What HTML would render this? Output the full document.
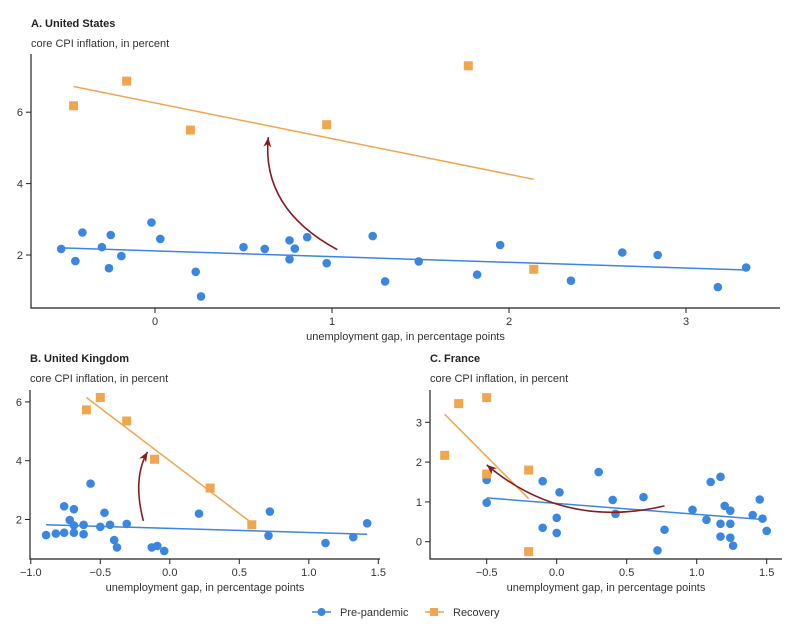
<!DOCTYPE html>
<html><head><meta charset="utf-8"><style>
html,body{margin:0;padding:0;background:#fff;}
svg{display:block;font-family:"Liberation Sans",sans-serif;}
</style></head><body>
<svg id="chart" width="800" height="635" viewBox="0 0 800 635" xmlns="http://www.w3.org/2000/svg">
<g>
  <line x1="312" y1="612" x2="331" y2="612" stroke="#3a86e0" stroke-width="1.5"/>
  <circle cx="321.5" cy="612" r="4" fill="#3a86e0"/>
  <text x="340" y="616" font-size="11" fill="#333">Pre-pandemic</text>
  <line x1="425" y1="612" x2="444" y2="612" stroke="#f0a550" stroke-width="1.5"/>
  <rect x="430" y="608" width="8" height="8" fill="#f0a550"/>
  <text x="453" y="616" font-size="11" fill="#333">Recovery</text>
</g>
</svg>
<script>
// Panel A: United States
const usPreX=[-0.53,-0.45,-0.41,-0.30,-0.26,-0.25,-0.19,-0.02,0.03,0.23,0.26,0.50,0.62,0.76,0.76,0.79,0.86,0.97,1.23,1.30,1.49,1.82,1.95,2.35,2.64,2.84,3.18,3.34];
const usPreY=[2.17,1.83,2.63,2.22,1.63,2.56,1.97,2.91,2.45,1.53,0.84,2.22,2.17,2.41,1.88,2.18,2.50,1.77,2.53,1.26,1.82,1.45,2.28,1.28,2.07,2.00,1.10,1.65];
const usRecX=[-0.46,-0.16,0.20,0.97,1.77,2.14];
const usRecY=[6.18,6.87,5.50,5.65,7.30,1.60];
const usPreFit=[[-0.53,2.20],[3.34,1.58]];
const usRecFit=[[-0.46,6.72],[2.14,4.12]];
const usXTicks=[0,1,2,3];
const usYTicks=[2,4,6];
const usXLabels=["0","1","2","3"];
// Panel B: United Kingdom
const ukPreX=[-0.89,-0.82,-0.76,-0.76,-0.72,-0.69,-0.69,-0.69,-0.62,-0.62,-0.57,-0.50,-0.47,-0.43,-0.40,-0.38,-0.31,-0.13,-0.09,-0.04,0.21,0.71,0.72,1.12,1.32,1.42];
const ukPreY=[1.47,1.52,2.45,1.55,1.98,2.35,1.80,1.55,1.82,1.50,3.22,1.75,2.23,1.82,1.30,1.05,1.85,1.05,1.10,0.93,2.20,1.45,2.27,1.20,1.40,1.87];
const ukRecX=[-0.60,-0.50,-0.31,-0.11,0.29,0.59];
const ukRecY=[5.73,6.15,5.35,4.05,3.07,1.82];
const ukPreFit=[[-0.89,1.82],[1.42,1.50]];
const ukRecFit=[[-0.60,6.15],[0.59,1.88]];
const ukXTicks=[-1,-0.5,0,0.5,1,1.5];
const ukXLabels=["\u22121.0","\u22120.5","0.0","0.5","1.0","1.5"];
const ukYTicks=[2,4,6];
// Panel C: France
const frPreX=[-0.50,-0.50,-0.10,-0.10,0.00,0.00,0.02,0.30,0.40,0.42,0.62,0.72,0.77,0.97,1.07,1.10,1.17,1.17,1.17,1.20,1.24,1.24,1.24,1.26,1.40,1.45,1.47,1.50];
const frPreY=[1.55,0.98,1.52,0.35,0.60,0.22,1.24,1.75,1.05,0.70,1.12,-0.22,0.30,0.80,0.55,1.50,1.63,0.45,0.13,0.90,0.78,0.45,0.10,-0.10,0.67,1.06,0.58,0.27];
const frRecX=[-0.80,-0.70,-0.50,-0.50,-0.20,-0.20];
const frRecY=[2.17,3.47,3.62,1.70,1.80,-0.25];
const frPreFit=[[-0.50,1.10],[1.50,0.55]];
const frRecFit=[[-0.80,3.20],[-0.20,1.08]];
const frXTicks=[-0.5,0,0.5,1,1.5];
const frXLabels=["\u22120.5","0.0","0.5","1.0","1.5"];
const frYTicks=[0,1,2,3];

const svg=document.getElementById('chart');
const NS="http://www.w3.org/2000/svg";
function mk(tag,attrs,parent){const e=document.createElementNS(NS,tag);for(const k in attrs)e.setAttribute(k,attrs[k]);parent.appendChild(e);return e;}

function panel(cfg){
  const g=mk('g',{},svg);
  
  
  const sx=v=>cfg.x0px+(v-cfg.x0)*cfg.xs;
  const sy=v=>cfg.y0px-(v-cfg.y0)*cfg.ys;
  const t=mk('text',{x:cfg.left,y:cfg.titleY,'font-size':11,'font-weight':'bold',fill:'#222'},g);t.textContent=cfg.title;
  
  
  const st=mk('text',{x:cfg.left,y:cfg.titleY+20,'font-size':11,fill:'#333'},g);st.textContent="core CPI inflation, in percent";
  
  
  const ax=mk('path',{d:`M${cfg.left} ${cfg.top}V${cfg.bottom}H${cfg.right}`,stroke:'#222','stroke-width':1.2,fill:'none'},g);
  
  
  cfg.xt.forEach((v,i)=>{
    mk('line',{x1:sx(v),x2:sx(v),y1:cfg.bottom,y2:cfg.bottom+5,stroke:'#222'},g);
    const l=mk('text',{x:sx(v),y:cfg.bottom+17,'font-size':11,fill:'#333','text-anchor':'middle'},g);l.textContent=cfg.xl[i];
    
    
  });
  cfg.yt.forEach(v=>{
    mk('line',{x1:cfg.left-5,x2:cfg.left,y1:sy(v),y2:sy(v),stroke:'#222'},g);
    const l=mk('text',{x:cfg.left-8,y:sy(v)+4,'font-size':11,fill:'#333','text-anchor':'end'},g);l.textContent=String(v);
    
    
  });
  const xt=mk('text',{x:(cfg.left+cfg.right)/2,y:cfg.bottom+32,'font-size':11,fill:'#333','text-anchor':'middle'},g);
  xt.textContent="unemployment gap, in percentage points";
  
  
  cfg.px.forEach((v,i)=>{
    const c=mk('circle',{cx:sx(v),cy:sy(cfg.py[i]),r:4.3,fill:'#3a86e0'},g);
    
    
  });
  cfg.rx.forEach((v,i)=>{
    const r=mk('rect',{x:sx(v)-4.5,y:sy(cfg.ry[i])-4.5,width:9,height:9,fill:'#f0a550'},g);
    
    
  });
  const pf=mk('line',{x1:sx(cfg.pf[0][0]),y1:sy(cfg.pf[0][1]),x2:sx(cfg.pf[1][0]),y2:sy(cfg.pf[1][1]),stroke:'#3a86e0','stroke-width':1.5},g);
  
  
  const rf=mk('line',{x1:sx(cfg.rf[0][0]),y1:sy(cfg.rf[0][1]),x2:sx(cfg.rf[1][0]),y2:sy(cfg.rf[1][1]),stroke:'#f0a550','stroke-width':1.5},g);
  
  
  const a=cfg.arrow;
  const p0=[sx(a[0][0]),sy(a[0][1])],pc=[sx(a[1][0]),sy(a[1][1])],p1=[sx(a[2][0]),sy(a[2][1])];
  const ar=mk('path',{d:`M${p0[0]} ${p0[1]}Q${pc[0]} ${pc[1]} ${p1[0]} ${p1[1]}`,stroke:'#8b1a1a','stroke-width':1.6,fill:'none'},g);
  
  
  const dx=p1[0]-pc[0],dy=p1[1]-pc[1],L=Math.hypot(dx,dy),ux=dx/L,uy=dy/L;
  const hx=p1[0]-ux*10,hy=p1[1]-uy*10;
  const ah=mk('path',{d:`M${p1[0]} ${p1[1]}L${hx-uy*4} ${hy+ux*4}L${hx+ux*3} ${hy+uy*3}L${hx+uy*4} ${hy-ux*4}Z`,fill:'#8b1a1a'},g);
  
  
}
panel({name:'panel-united-states',title:'A. United States',titleY:27,left:31,right:780,top:54,bottom:308,
  x0:0,x0px:155,xs:177,y0:2,y0px:255,ys:35.7,xt:usXTicks,xl:usXLabels,yt:usYTicks,
  px:usPreX,py:usPreY,rx:usRecX,ry:usRecY,pf:usPreFit,rf:usRecFit,arrow:[[1.03,2.15],[0.6,3.3],[0.64,5.3]]});
panel({name:'panel-united-kingdom',title:'B. United Kingdom',titleY:362,left:30,right:380,top:390,bottom:559,
  x0:0,x0px:169.8,xs:139,y0:2,y0px:519.5,ys:29.4,xt:ukXTicks,xl:ukXLabels,yt:ukYTicks,
  px:ukPreX,py:ukPreY,rx:ukRecX,ry:ukRecY,pf:ukPreFit,rf:ukRecFit,arrow:[[-0.19,1.95],[-0.27,3.4],[-0.16,4.3]]});
panel({name:'panel-france',title:'C. France',titleY:362,left:430,right:782,top:390,bottom:559,
  x0:0,x0px:556.7,xs:140,y0:0,y0px:541.7,ys:39.8,xt:frXTicks,xl:frXLabels,yt:frYTicks,
  px:frPreX,py:frPreY,rx:frRecX,ry:frRecY,pf:frPreFit,rf:frRecFit,arrow:[[0.77,0.9],[0.05,0.3],[-0.5,1.93]]});
</script>
</body></html>
